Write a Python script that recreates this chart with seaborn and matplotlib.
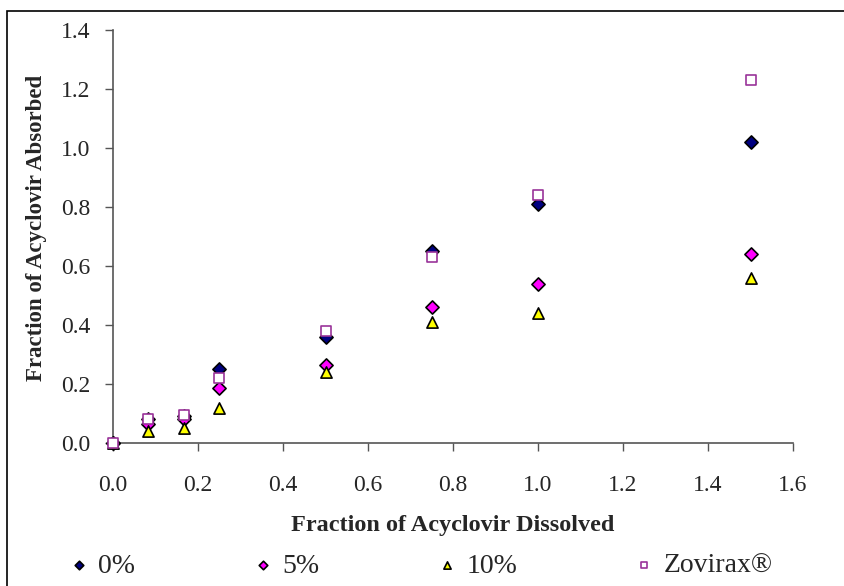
import matplotlib
matplotlib.use("Agg")
import matplotlib.pyplot as plt
from matplotlib.patches import Rectangle
import pandas as pd
import seaborn as sns

# fraction dissolved (x) and fraction absorbed for each formulation
dissolved = [0.0, 0.083, 0.167, 0.25, 0.5, 0.75, 1.0, 1.5]
abs_0 = [0.0, 0.08, 0.09, 0.25, 0.36, 0.65, 0.81, 1.02]
abs_5 = [0.0, 0.065, 0.08, 0.185, 0.265, 0.46, 0.54, 0.64]
abs_10 = [0.0, 0.04, 0.05, 0.12, 0.24, 0.41, 0.44, 0.56]
abs_zov = [0.0, 0.08, 0.095, 0.22, 0.38, 0.63, 0.84, 1.23]
labels = ["0%", "5%", "10%", "Zovirax®"]

sns.set_style("white")
plt.rcParams["font.family"] = ["Liberation Serif", "DejaVu Serif"]

df = pd.DataFrame({
    "x": dissolved * 4,
    "y": abs_0 + abs_5 + abs_10 + abs_zov,
    "series": [l for l in labels for _ in dissolved],
})

styles = {
    "0%": dict(marker="D", color="#000080", edgecolor="black", s=45),
    "5%": dict(marker="D", color="#FF00FF", edgecolor="black", s=45),
    "10%": dict(marker="^", color="#FFFF00", edgecolor="black", s=65),
    "Zovirax®": dict(marker="s", color="white", edgecolor="#993399", s=55),
}

fig = plt.figure(figsize=(8.44, 5.86), dpi=100)
ax = fig.add_axes([113 / 844, 1 - 443 / 586, 680 / 844, 413 / 586])

for lab in labels:
    st = styles[lab]
    sub = df[df["series"] == lab]
    sns.scatterplot(data=sub, x="x", y="y", ax=ax, marker=st["marker"],
                    color=st["color"], edgecolor=st["edgecolor"], s=st["s"],
                    linewidth=1.2, label=lab, legend=False, zorder=3,
                    clip_on=False)

ax.set_xlim(0, 1.6)
ax.set_ylim(0, 1.4)
ax.set_xticks([0.0, 0.2, 0.4, 0.6, 0.8, 1.0, 1.2, 1.4, 1.6])
ax.set_yticks([0.0, 0.2, 0.4, 0.6, 0.8, 1.0, 1.2, 1.4])
ax.xaxis.set_major_formatter(matplotlib.ticker.FormatStrFormatter("%.1f"))
ax.yaxis.set_major_formatter(matplotlib.ticker.FormatStrFormatter("%.1f"))
ax.tick_params(axis="both", labelsize=17, direction="out", length=6,
               width=1, color="#555555", bottom=True, left=True)
ax.tick_params(axis="x", pad=17)
ax.tick_params(axis="y", pad=10)
for side in ["top", "right"]:
    ax.spines[side].set_visible(False)
for side in ["left", "bottom"]:
    ax.spines[side].set_color("#555555")
    ax.spines[side].set_linewidth(1.2)

ax.set_xlabel("Fraction of Acyclovir Dissolved", fontsize=17.5,
              fontweight="bold", va="center")
ax.set_ylabel("Fraction of Acyclovir Absorbed", fontsize=16.5,
              fontweight="bold", va="center")
ax.xaxis.set_label_coords(0.5, (443 - 525) / 413)
ax.yaxis.set_label_coords((37 - 113) / 680, 0.52)

# one legend entry per slot, as in the original spreadsheet legend
handles, hlabels = ax.get_legend_handles_labels()
slots = [65, 249, 433, 630]
for h, lab, xs in zip(handles, hlabels, slots):
    fig.legend([h], [lab], loc="center left", frameon=False,
               bbox_to_anchor=(xs / 844, 1 - 566 / 586), fontsize=20,
               markerscale=0.65, handletextpad=0.2, handlelength=1.0,
               borderpad=0, borderaxespad=0)

fig.add_artist(Rectangle((7 / 844, -0.1), 1.2, 1 - 11 / 586 + 0.1,
                         transform=fig.transFigure, fill=False,
                         edgecolor="black", linewidth=1.2, clip_on=False))

fig.savefig("out.png", dpi=100)
